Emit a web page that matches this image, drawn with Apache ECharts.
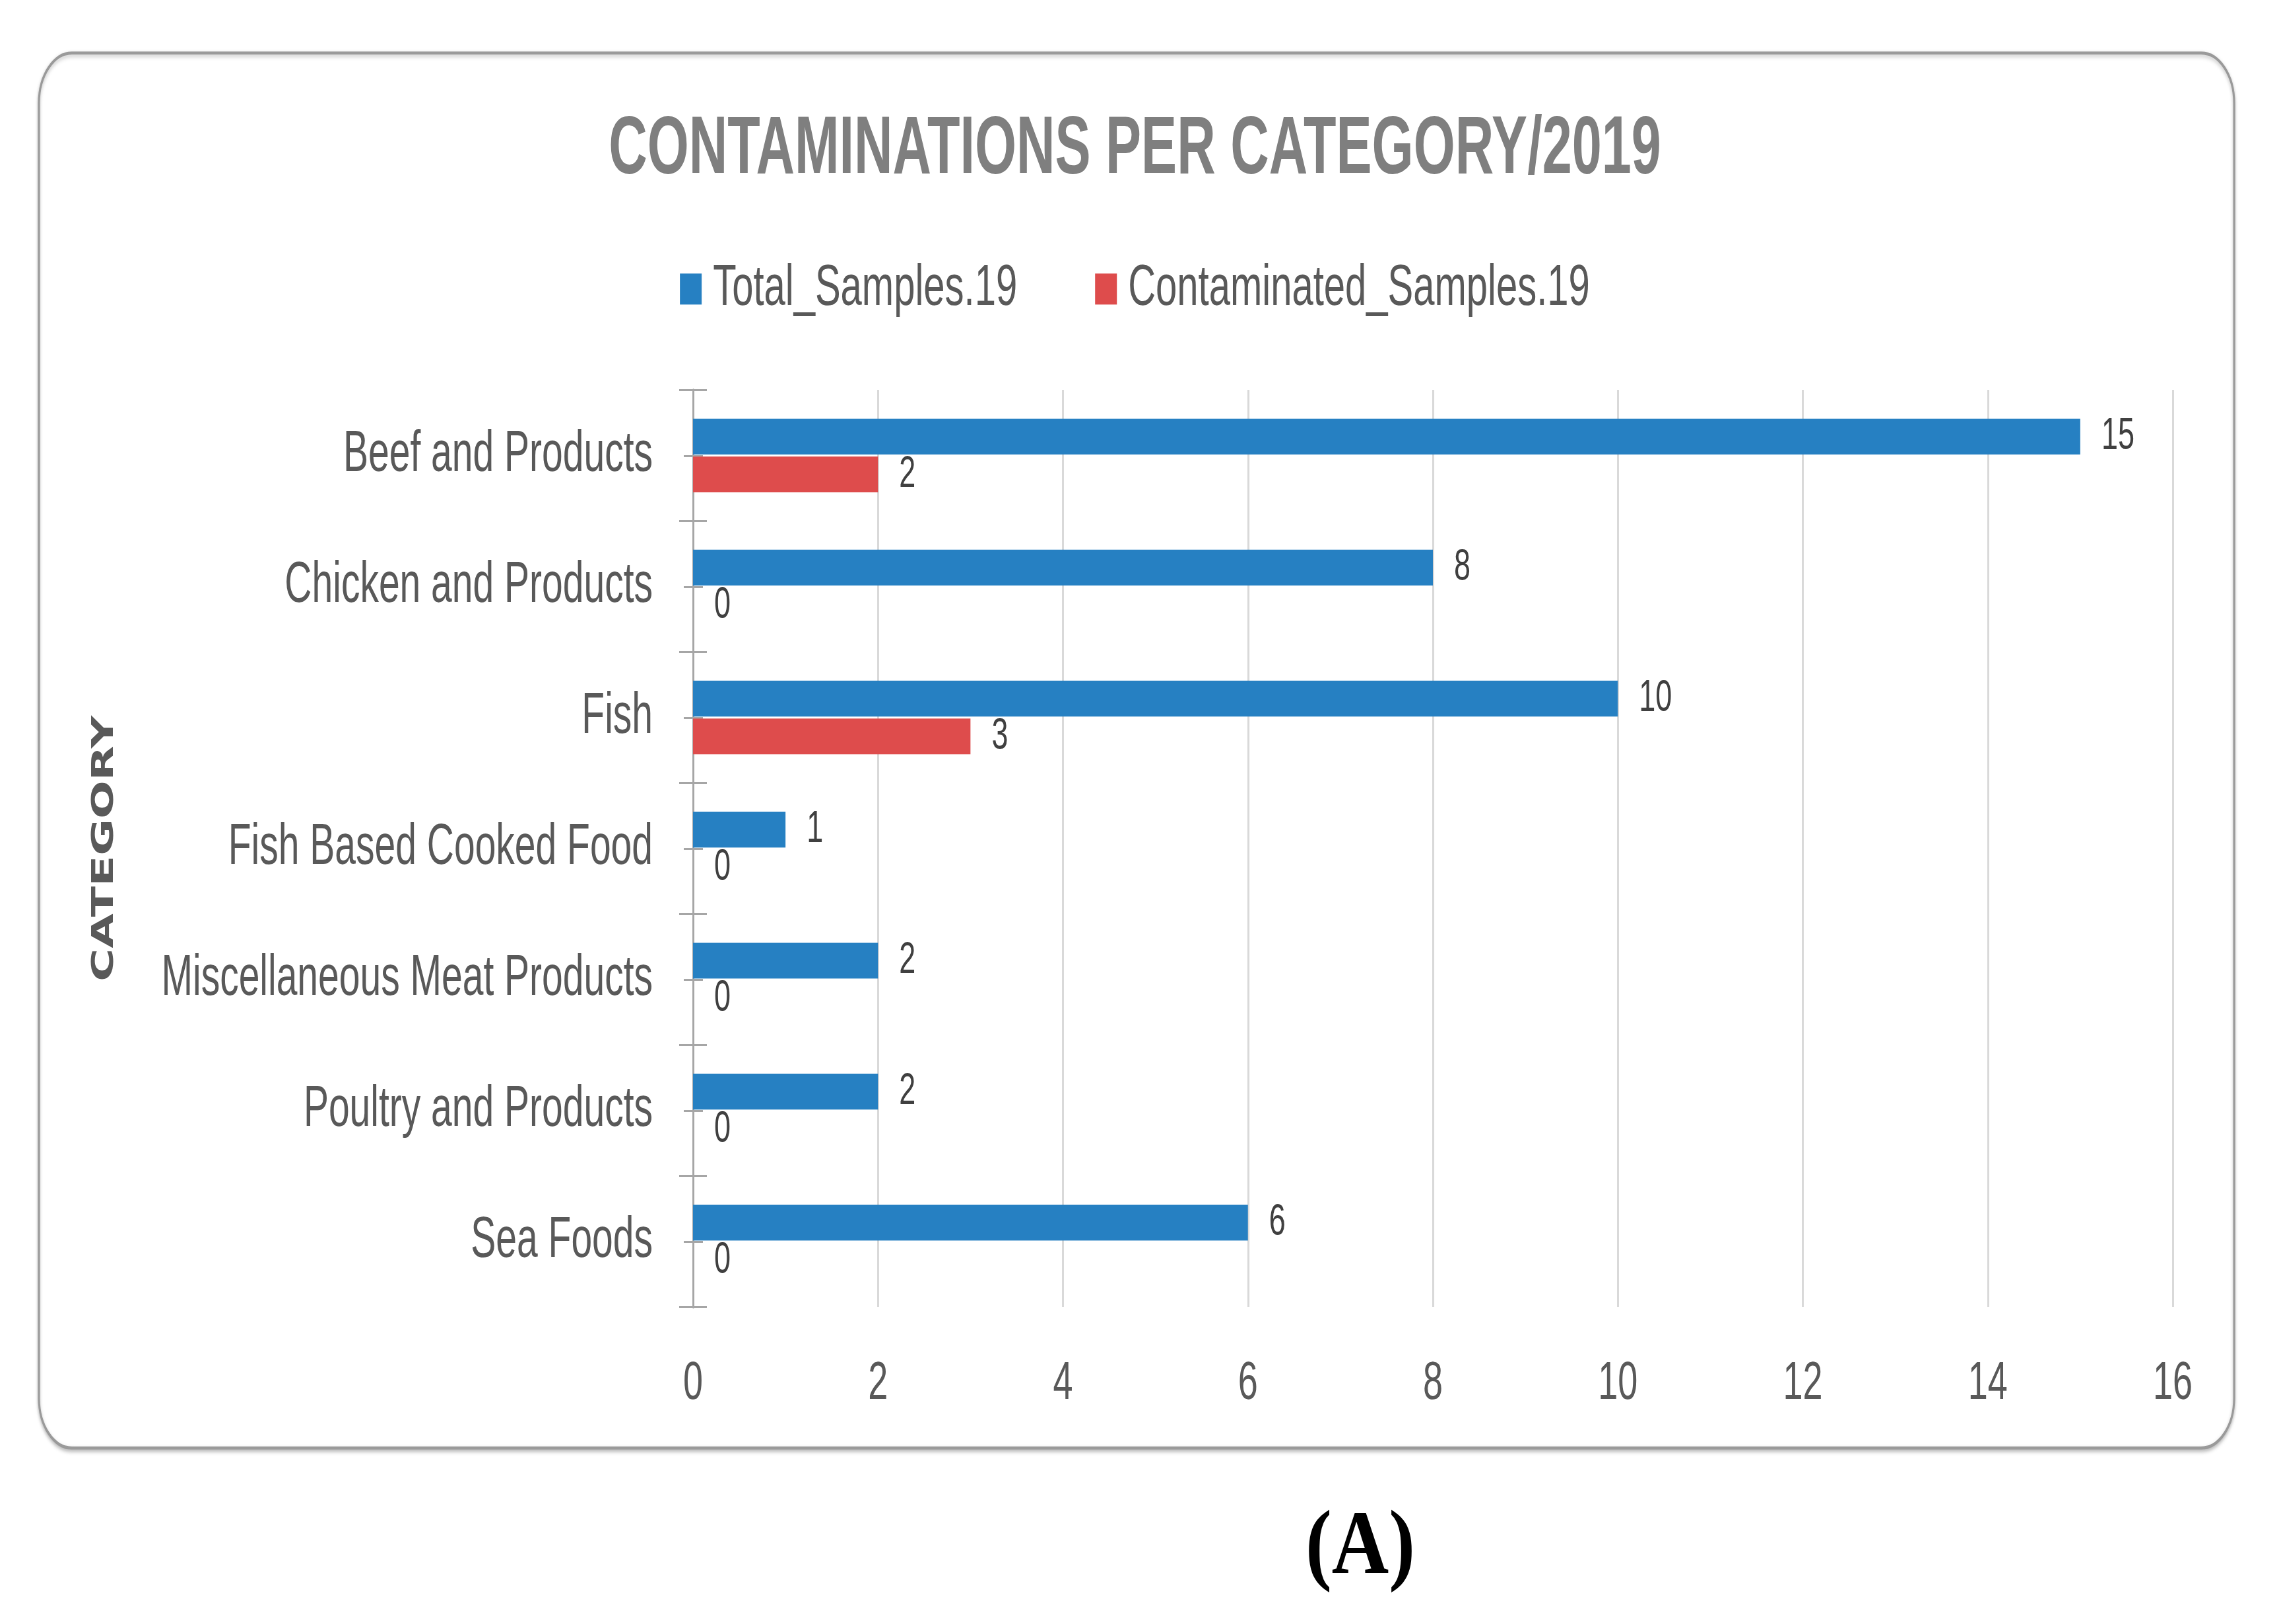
<!DOCTYPE html>
<html>
<head>
<meta charset="utf-8">
<script src="https://cdn.jsdelivr.net/npm/echarts@6/dist/echarts.min.js"></script>
<style>
html,body{margin:0;padding:0;background:#fff;overflow:hidden;}
#wrap{width:2270px;height:1600px;overflow:hidden;position:relative;}
/* the reference image is horizontally compressed; reproduce by drawing wider and squeezing */
#chart{width:3439px;height:1600px;transform:scaleX(0.66);transform-origin:0 0;position:absolute;left:0;top:0;}
</style>
</head>
<body>
<div id="wrap"><div id="chart"></div></div>
<script>
const categories = ['Beef and Products','Chicken and Products','Fish','Fish Based Cooked Food','Miscellaneous Meat Products','Poultry and Products','Sea Foods'];
const totalSamples = [15, 8, 10, 1, 2, 2, 6];
const contaminatedSamples = [2, 0, 3, 0, 0, 0, 0];
const seriesNames = ['Total_Samples.19', 'Contaminated_Samples.19'];
const xTicks = [0, 2, 4, 6, 8, 10, 12, 14, 16];

const SANS = "'Liberation Sans',Arial,sans-serif";
const AXIS_GREY = '#a6a6a6';
const TEXT_GREY = '#595959';

const chart = echarts.init(document.getElementById('chart'), null, {renderer:'canvas'});

function tickAxis(extra) {
  return Object.assign({
    type: 'category', data: categories, inverse: true, position: 'left',
    axisLine: {show: false}, axisLabel: {show: false}, splitLine: {show: false}
  }, extra);
}

const option = {
  backgroundColor: '#ffffff',
  animation: false,
  graphic: [
    {type:'rect', z:-10, shape:{x:59, y:53, width:3326, height:1395, r:50},
     style:{fill:'#ffffff', stroke:'#9a9a9a', lineWidth:3, shadowBlur:4, shadowColor:'rgba(0,0,0,0.25)', shadowOffsetY:2}},
    {type:'text', x:2061, y:1550, scaleX:1.33,
     style:{text:'(A)', font:"bold 90px 'Liberation Serif','Times New Roman',serif", fill:'#000', align:'center', verticalAlign:'middle'}}
  ],
  title: {
    text: 'CONTAMINATIONS PER CATEGORY/2019',
    left: 'center', top: 105,
    textStyle: {fontFamily: SANS, fontWeight: 'bold', fontSize: 81, color: '#7f7f7f'}
  },
  legend: {
    top: 255, left: 'center',
    itemWidth: 33, itemHeight: 31, itemGap: 118,
    icon: 'rect',
    data: seriesNames,
    textStyle: {fontFamily: SANS, fontSize: 58, color: TEXT_GREY, padding:[0,0,0,12]}
  },
  grid: {left: 1050, right: 147, top: 390, bottom: 293, containLabel: false},
  xAxis: {
    type: 'value', min: xTicks[0], max: xTicks[xTicks.length-1], interval: 2,
    axisLine: {show: false}, axisTick: {show: false},
    axisLabel: {fontFamily: SANS, fontSize: 54, color: TEXT_GREY, margin: 50},
    splitLine: {show: true, lineStyle: {color: '#d9d9d9', width: 3}}
  },
  yAxis: [
    {
      type: 'category', data: categories, inverse: true,
      name: 'CATEGORY', nameLocation: 'middle', nameGap: 868, nameRotate: 90, nameMoveOverlap: false,
      nameTextStyle: {fontFamily: "'DejaVu Sans',sans-serif", fontWeight: 'bold', fontSize: 45, color: TEXT_GREY},
      axisLine: {show: true, lineStyle: {color: AXIS_GREY, width: 3}},
      axisTick: {show: true, length: 21, lineStyle: {color: AXIS_GREY, width: 2}},
      axisLabel: {fontFamily: SANS, fontSize: 57, color: TEXT_GREY, margin: 61},
      splitLine: {show: false}
    },
    tickAxis({axisTick: {show: true, inside: true, length: 21, lineStyle: {color: AXIS_GREY, width: 2}}}),
    tickAxis({axisTick: {show: true, alignWithLabel: true, length: 14, lineStyle: {color: AXIS_GREY, width: 2}}}),
    tickAxis({axisTick: {show: true, alignWithLabel: true, inside: true, length: 15, lineStyle: {color: AXIS_GREY, width: 2}}})
  ],
  series: [
    {
      name: seriesNames[0], type: 'bar', data: totalSamples, yAxisIndex: 0,
      barCategoryGap: '44%', barGap: '6%',
      itemStyle: {color: '#2680c2'},
      label: {show: true, position: 'right', distance: 32, fontFamily: SANS, fontSize: 45, color: '#404040'}
    },
    {
      name: seriesNames[1], type: 'bar', data: contaminatedSamples, yAxisIndex: 0,
      barCategoryGap: '44%', barGap: '6%',
      itemStyle: {color: '#de4c4c'},
      label: {show: true, position: 'right', distance: 32, fontFamily: SANS, fontSize: 45, color: '#404040'}
    }
  ]
};
chart.setOption(option);
</script>
</body>
</html>
